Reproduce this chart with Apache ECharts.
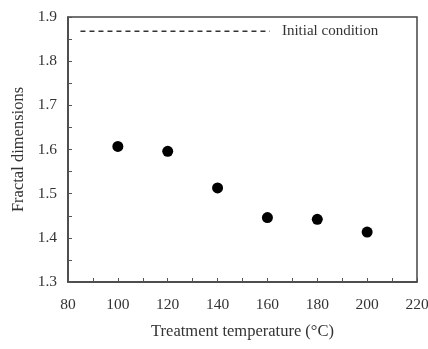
<!DOCTYPE html>
<html>
<head>
<meta charset="utf-8">
<script src="https://cdn.jsdelivr.net/npm/echarts@6/dist/echarts.min.js"></script>
<style>
  html, body { margin: 0; padding: 0; background: #fff; }
  #chart { width: 428px; height: 349px; }
</style>
</head>
<body>
<div id="chart"></div>
<script>
// measured points
const temperatures = [100, 120, 140, 160, 180, 200];
const fractalDims = [1.607, 1.596, 1.513, 1.446, 1.442, 1.413];

// initial condition reference line
const initialX = [85, 161];
const initialValue = 1.868;
const initialLabel = "Initial condition";

const xTitle = "Treatment temperature (°C)";
const yTitle = "Fractal dimensions";

const FONT = "Liberation Serif";
const INK = "#333";

const chart = echarts.init(document.getElementById("chart"));

chart.setOption({
  animation: false,
  grid: {
    left: 68,
    right: 11,
    top: 17,
    bottom: 67,
    outerBoundsMode: "none",
    containLabel: false,
    show: true,
    borderColor: "#444",
    borderWidth: 1.5,
  },
  xAxis: {
    type: "value",
    min: 80,
    max: 220,
    interval: 20,
    name: xTitle,
    nameLocation: "middle",
    nameGap: 41,
    nameTextStyle: { fontFamily: FONT, fontSize: 16.5, color: INK },
    axisLine: { show: true, lineStyle: { color: "#444", width: 1.5 } },
    axisTick: { show: true, inside: true, length: 4, lineStyle: { color: "#555" } },
    minorTick: { show: true, splitNumber: 2, length: 4, lineStyle: { color: "#555" } },
    axisLabel: { fontFamily: FONT, fontSize: 15.5, color: INK, margin: 15 },
    splitLine: { show: false },
  },
  yAxis: {
    type: "value",
    min: 1.3,
    max: 1.9,
    interval: 0.1,
    name: yTitle,
    nameLocation: "middle",
    nameGap: 40,
    nameTextStyle: { fontFamily: FONT, fontSize: 16.5, color: INK },
    axisLine: { show: true, lineStyle: { color: "#444", width: 1.5 } },
    axisTick: { show: true, inside: true, length: 4, lineStyle: { color: "#555" } },
    minorTick: { show: true, splitNumber: 2, length: 4, lineStyle: { color: "#555" } },
    axisLabel: {
      fontFamily: FONT,
      fontSize: 15.5,
      color: INK,
      margin: 11,
      formatter: (v) => v.toFixed(1),
    },
    splitLine: { show: false },
  },
  series: [
    {
      type: "line",
      data: initialX.map((x) => [x, initialValue]),
      symbol: "none",
      lineStyle: { color: "#333", width: 1.5, type: [5, 4] },
      endLabel: {
        show: true,
        formatter: initialLabel,
        distance: 12,
        fontFamily: FONT,
        fontSize: 15,
        color: INK,
      },
    },
    {
      type: "scatter",
      data: temperatures.map((t, i) => [t, fractalDims[i]]),
      symbol: "circle",
      symbolSize: 11,
      itemStyle: { color: "#000", opacity: 1 },
    },
  ],
});
</script>
</body>
</html>
